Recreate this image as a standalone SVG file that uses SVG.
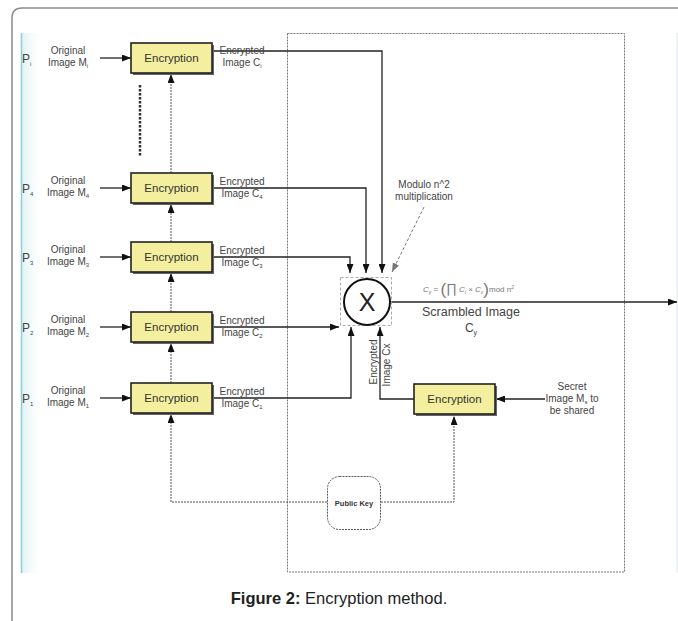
<svg xmlns="http://www.w3.org/2000/svg" width="678" height="621" viewBox="0 0 678 621">
  <style>
    text { font-family: "Liberation Sans", Arial, sans-serif; }
    .lbl { font-size: 10px; fill: #444; text-anchor: middle; }
    .enc { font-size: 11.5px; fill: #333; text-anchor: middle; }
    .pl { font-size: 12px; fill: #444; }
    .sub { font-size: 6px; }
    .box { fill: #f4ef9f; stroke: #222; stroke-width: 1.6; }
    .shadow { fill: #666; }
    .wire { fill: none; stroke: #222; stroke-width: 1.3; }
    .dash { fill: none; stroke: #555; stroke-width: 1; stroke-dasharray: 2 1; }
    .frm { fill: none; stroke: #8a8a8a; stroke-width: 1.5; }
  </style>
  <defs>
    <marker id="arr" markerUnits="userSpaceOnUse" markerWidth="9" markerHeight="7" refX="9" refY="3.5" orient="auto">
      <path d="M0,0 L9,3.5 L0,7 z" fill="#111"/>
    </marker>
    <marker id="arrg" markerUnits="userSpaceOnUse" markerWidth="9" markerHeight="7" refX="9" refY="3.5" orient="auto">
      <path d="M0,0 L9,3.5 L0,7 z" fill="#777"/>
    </marker>
    <linearGradient id="edge" x1="0" x2="1" y1="0" y2="0">
      <stop offset="0" stop-color="#8fd0d4"/>
      <stop offset="1" stop-color="#ffffff" stop-opacity="0"/>
    </linearGradient>
  </defs>

  <rect width="678" height="621" fill="#fff"/>
  <!-- page frame -->
  <path class="frm" d="M12,621 V18 Q12,8 22,8 H678"/>
  <rect x="21" y="33" width="24" height="540" fill="url(#edge)" opacity="0.3"/>
  <line x1="21.5" y1="33" x2="21.5" y2="573" stroke="#8fd0d4" stroke-width="1.5"/>
  <line x1="677" y1="33" x2="677" y2="573" stroke="#dce9f0" stroke-width="1"/>

  <!-- dashed region -->
  <rect x="287.5" y="33.5" width="337" height="538.5" fill="none" stroke="#777" stroke-width="1" stroke-dasharray="2 1"/>

  <!-- connectors -->
  <g id="connectors">
    <!-- inputs into encryption boxes -->
    <line class="wire" x1="100" y1="58" x2="131" y2="58" marker-end="url(#arr)"/>
    <line class="wire" x1="100" y1="188" x2="131" y2="188" marker-end="url(#arr)"/>
    <line class="wire" x1="100" y1="257" x2="131" y2="257" marker-end="url(#arr)"/>
    <line class="wire" x1="100" y1="327" x2="131" y2="327" marker-end="url(#arr)"/>
    <line class="wire" x1="100" y1="398" x2="131" y2="398" marker-end="url(#arr)"/>
    <!-- encrypted images into the multiplier -->
    <path class="wire" d="M212,51 H382 V273" marker-end="url(#arr)"/>
    <path class="wire" d="M212,188 H366 V273" marker-end="url(#arr)"/>
    <path class="wire" d="M212,257 H350 V273" marker-end="url(#arr)"/>
    <path class="wire" d="M212,327 H339" marker-end="url(#arr)"/>
    <path class="wire" d="M212,398 H351 V327" marker-end="url(#arr)"/>
    <path class="wire" d="M414,399 H380 V327" marker-end="url(#arr)"/>
    <!-- output -->
    <path class="wire" d="M390,302 H677" marker-end="url(#arr)"/>
    <!-- secret image input -->
    <path class="wire" d="M545,399 H496" marker-end="url(#arr)"/>
    <!-- public key distribution -->
    <path class="dash" d="M327,502 H171 V414" marker-end="url(#arr)"/>
    <path class="dash" d="M381,502 H454 V416" marker-end="url(#arr)"/>
    <path class="dash" d="M171,383 V343" marker-end="url(#arr)"/>
    <path class="dash" d="M171,312 V273" marker-end="url(#arr)"/>
    <path class="dash" d="M171,242 V204" marker-end="url(#arr)"/>
    <path class="dash" d="M171,173 V74" marker-end="url(#arr)"/>
    <!-- vertical ellipsis -->
    <line x1="140" y1="85" x2="140" y2="156" stroke="#333" stroke-width="2.5" stroke-dasharray="2.5 1.5"/>
    <!-- annotation pointer -->
    <path d="M424,207 L392,272" fill="none" stroke="#777" stroke-width="1" stroke-dasharray="3 2" marker-end="url(#arrg)"/>
  </g>

  <!-- participants -->
  <g id="p-i">
    <text class="pl" x="22" y="63">P<tspan class="sub" dy="3">i</tspan></text>
    <text class="lbl" x="68" y="54">Original</text>
    <text class="lbl" x="68" y="66">Image M<tspan class="sub" dy="2">i</tspan></text>
    <rect class="shadow" x="133" y="45" width="81" height="30"/>
    <rect class="box" x="131" y="43" width="81" height="30"/>
    <text class="enc" x="171.5" y="62">Encryption</text>
    <text class="lbl" x="242" y="54">Encrypted</text>
    <text class="lbl" x="242" y="66">Image C<tspan class="sub" dy="2">i</tspan></text>
  </g>
  <g id="p-4">
    <text class="pl" x="22" y="193">P<tspan class="sub" dy="3">4</tspan></text>
    <text class="lbl" x="68" y="184">Original</text>
    <text class="lbl" x="68" y="196">Image M<tspan class="sub" dy="2">4</tspan></text>
    <rect class="shadow" x="133" y="175" width="81" height="30"/>
    <rect class="box" x="131" y="173" width="81" height="30"/>
    <text class="enc" x="171.5" y="192">Encryption</text>
    <text class="lbl" x="242" y="185">Encrypted</text>
    <text class="lbl" x="242" y="197">Image C<tspan class="sub" dy="2">4</tspan></text>
  </g>
  <g id="p-3">
    <text class="pl" x="22" y="262">P<tspan class="sub" dy="3">3</tspan></text>
    <text class="lbl" x="68" y="253">Original</text>
    <text class="lbl" x="68" y="265">Image M<tspan class="sub" dy="2">3</tspan></text>
    <rect class="shadow" x="133" y="244" width="81" height="30"/>
    <rect class="box" x="131" y="242" width="81" height="30"/>
    <text class="enc" x="171.5" y="261">Encryption</text>
    <text class="lbl" x="242" y="254">Encrypted</text>
    <text class="lbl" x="242" y="266">Image C<tspan class="sub" dy="2">3</tspan></text>
  </g>
  <g id="p-2">
    <text class="pl" x="22" y="332">P<tspan class="sub" dy="3">2</tspan></text>
    <text class="lbl" x="68" y="323">Original</text>
    <text class="lbl" x="68" y="335">Image M<tspan class="sub" dy="2">2</tspan></text>
    <rect class="shadow" x="133" y="314" width="81" height="30"/>
    <rect class="box" x="131" y="312" width="81" height="30"/>
    <text class="enc" x="171.5" y="331">Encryption</text>
    <text class="lbl" x="242" y="324">Encrypted</text>
    <text class="lbl" x="242" y="336">Image C<tspan class="sub" dy="2">2</tspan></text>
  </g>
  <g id="p-1">
    <text class="pl" x="22" y="403">P<tspan class="sub" dy="3">1</tspan></text>
    <text class="lbl" x="68" y="394">Original</text>
    <text class="lbl" x="68" y="406">Image M<tspan class="sub" dy="2">1</tspan></text>
    <rect class="shadow" x="133" y="385" width="81" height="30"/>
    <rect class="box" x="131" y="383" width="81" height="30"/>
    <text class="enc" x="171.5" y="402">Encryption</text>
    <text class="lbl" x="242" y="395">Encrypted</text>
    <text class="lbl" x="242" y="407">Image C<tspan class="sub" dy="2">1</tspan></text>
  </g>

  <!-- modular multiplier -->
  <g id="multiplier">
    <rect x="340.5" y="277.5" width="51" height="48" fill="none" stroke="#aaa" stroke-width="1" stroke-dasharray="3 2"/>
    <circle cx="367" cy="302" r="23" fill="#fff" stroke="#111" stroke-width="2"/>
    <text x="367" y="311" font-size="25" fill="#222" text-anchor="middle">X</text>
    <text class="lbl" x="424" y="188">Modulo n^2</text>
    <text class="lbl" x="424" y="200">multiplication</text>
    <text x="423" y="292" font-family="Liberation Serif, serif" font-size="8" fill="#777" font-style="italic">C<tspan font-size="5" dy="2">y</tspan><tspan dy="-2" font-style="normal"> = </tspan><tspan font-size="17" dy="3" font-style="normal">(</tspan><tspan font-size="13" dy="-2" font-style="normal">∏</tspan><tspan dy="-1"> C</tspan><tspan font-size="5" dy="2">i</tspan><tspan dy="-2" font-style="normal"> × </tspan>C<tspan font-size="5" dy="2">x</tspan><tspan font-size="17" dy="1" font-style="normal">)</tspan><tspan dy="-3" font-style="normal">mod n</tspan><tspan font-size="5" dy="-3">2</tspan></text>
    <text x="471" y="316" font-size="12.5" fill="#444" text-anchor="middle">Scrambled Image</text>
    <text x="471" y="332" font-size="12" fill="#444" text-anchor="middle">C<tspan font-size="7" dy="3">y</tspan></text>
  </g>

  <!-- secret encryption -->
  <g id="secret">
    <rect class="shadow" x="416" y="386" width="81" height="30"/>
    <rect class="box" x="414" y="384" width="81" height="30"/>
    <text class="enc" x="454.5" y="403">Encryption</text>
    <text class="lbl" x="572" y="390">Secret</text>
    <text class="lbl" x="572" y="402">Image M<tspan class="sub" dy="2">s</tspan><tspan dy="-2"> to</tspan></text>
    <text class="lbl" x="572" y="414">be shared</text>
    <text class="lbl" transform="translate(377,362) rotate(-90)">Encrypted</text>
    <text class="lbl" transform="translate(390,365) rotate(-90)">Image Cx</text>
  </g>

  <!-- public key -->
  <g id="public-key">
    <rect x="327.5" y="476.5" width="53" height="53" rx="12" fill="#fff" stroke="#555" stroke-width="1" stroke-dasharray="2 1"/>
    <text x="354" y="506" font-size="7.5" font-weight="bold" fill="#333" text-anchor="middle">Public Key</text>
  </g>

  <!-- caption -->
  <text x="339" y="604" font-size="16.5" fill="#222" text-anchor="middle"><tspan font-weight="bold">Figure 2:</tspan> Encryption method.</text>
</svg>
